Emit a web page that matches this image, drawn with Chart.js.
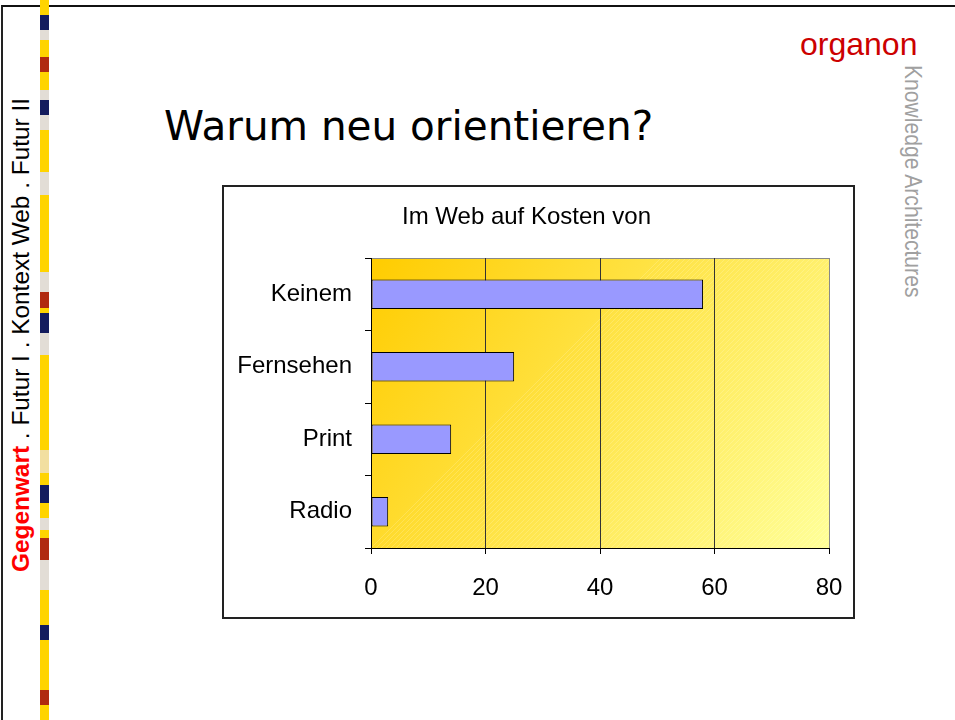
<!DOCTYPE html>
<html>
  <head>
    <meta charset="UTF-8" />
    <title>Warum neu orientieren?</title>
    <script src="https://cdn.jsdelivr.net/npm/chart.js"></script>
    <style>
      body {
        margin: 0;
        padding: 0;
        width: 955px;
        height: 720px;
        position: relative;
        overflow: hidden;
        background: #fff;
        font-family: "Liberation Sans", Arial, sans-serif;
      }
      .frame {
        position: absolute;
        left: 1px;
        top: 5px;
        width: 960px;
        height: 720px;
        border-top: 2px solid #111;
        border-left: 2px solid #222;
      }
      .stripe { position: absolute; left: 40px; width: 9px; }
      .side {
        position: absolute;
        left: 9px;
        top: 572px;
        transform-origin: 0 0;
        transform: rotate(-90deg);
        white-space: nowrap;
        font-size: 24.4px;
        line-height: 24px;
        color: #000;
      }
      .side b { color: #ff0000; }
      .brand {
        position: absolute;
        left: 800px;
        top: 28px;
        font-size: 32px;
        line-height: 32px;
        color: #cc0000;
      }
      .tagline {
        position: absolute;
        left: 925px;
        top: 65px;
        transform-origin: 0 0;
        transform: rotate(90deg) scaleX(0.88);
        white-space: nowrap;
        font-size: 24px;
        line-height: 24px;
        color: #a0a0a0;
      }
      .heading {
        position: absolute;
        left: 164px;
        top: 106px;
        font-family: "DejaVu Sans", Verdana, sans-serif;
        font-size: 40.5px;
        line-height: 40px;
        color: #000;
        white-space: nowrap;
      }
      .box {
        position: absolute;
        left: 222px;
        top: 185px;
        width: 629px;
        height: 430px;
        border: 2px solid #222;
        background: #fff;
      }
      canvas { display: block; }
    </style>
  </head>
  <body>
    <div class="frame"></div>
    <div id="stripes"></div>
    <div class="side"><b>Gegenwart</b> . Futur I . Kontext Web . Futur II</div>
    <div class="brand">organon</div>
    <div class="tagline">Knowledge Architectures</div>
    <div class="heading">Warum neu orientieren?</div>
    <div class="box"><canvas id="myChart" width="629" height="430"></canvas></div>
    <script>
      const chartTitle = 'Im Web auf Kosten von';
      const categories = ['Keinem', 'Fernsehen', 'Print', 'Radio'];
      const values = [58, 25, 14, 3];
      const xTicks = [0, 20, 40, 60, 80];

      // decorative colour strip on the left edge
      const Y = '#ffd400', N = '#141c5e', G = '#e2ddd6', R = '#b02a10', B = '#f2dfa0';
      const strip = [
        [0, 15, Y], [15, 30, N], [30, 40, G], [40, 57, Y], [57, 72, R], [72, 90, Y],
        [90, 100, G], [100, 115, N], [115, 130, G], [130, 172, Y], [172, 195, G],
        [195, 272, Y], [272, 292, G], [292, 308, R], [308, 313, Y], [313, 333, N],
        [333, 355, G], [355, 450, Y], [450, 473, B], [473, 485, Y], [485, 503, N],
        [503, 518, Y], [518, 530, G], [530, 538, Y], [538, 560, R], [560, 590, G],
        [590, 625, Y], [625, 640, N], [640, 690, Y], [690, 705, R], [705, 720, Y]
      ];
      const holder = document.getElementById('stripes');
      strip.forEach(([a, b, c]) => {
        const d = document.createElement('div');
        d.className = 'stripe';
        d.style.top = a + 'px';
        d.style.height = (b - a) + 'px';
        d.style.background = c;
        holder.appendChild(d);
      });

      const font = { family: '"Liberation Sans", Arial, sans-serif', size: 24, weight: 'normal' };

      const plotBg = {
        id: 'plotBg',
        beforeDraw(chart) {
          const { ctx, chartArea: a } = chart;
          const w = a.right - a.left, h = a.bottom - a.top;
          ctx.save();
          const g = ctx.createLinearGradient(a.left, a.top, a.right, a.bottom);
          g.addColorStop(0, '#ffcc00');
          g.addColorStop(1, '#ffff99');
          ctx.fillStyle = g;
          ctx.fillRect(a.left, a.top, w, h);
          // faint diagonal hatching
          ctx.beginPath();
          ctx.rect(a.left, a.top, w, h);
          ctx.clip();
          ctx.strokeStyle = 'rgba(255,255,255,0.18)';
          ctx.lineWidth = 1;
          for (let s = 0; s < w + h; s += 5) {
            ctx.beginPath();
            ctx.moveTo(a.left + s, a.bottom);
            ctx.lineTo(a.left + s + h, a.top);
            ctx.stroke();
          }
          ctx.restore();
          ctx.save();
          ctx.strokeStyle = '#888';
          ctx.lineWidth = 1;
          ctx.beginPath();
          ctx.moveTo(a.left, a.top + 0.5);
          ctx.lineTo(a.right, a.top + 0.5);
          ctx.stroke();
          ctx.restore();
        }
      };

      const ctx = document.getElementById('myChart').getContext('2d');
      new Chart(ctx, {
        type: 'bar',
        data: {
          labels: categories,
          datasets: [{
            data: values,
            backgroundColor: '#9999ff',
            borderColor: '#000',
            borderWidth: 1,
            borderSkipped: false,
            barPercentage: 0.41,
            categoryPercentage: 1
          }]
        },
        plugins: [plotBg],
        options: {
          indexAxis: 'y',
          responsive: false,
          animation: false,
          devicePixelRatio: 1,
          layout: { padding: { left: 0, right: 24, top: 0, bottom: 0 } },
          plugins: {
            legend: { display: false },
            tooltip: { enabled: false },
            title: {
              display: true,
              text: chartTitle,
              color: '#000',
              font: font,
              padding: { top: 15.6, bottom: 26.6 }
            }
          },
          scales: {
            x: {
              min: xTicks[0],
              max: xTicks[xTicks.length - 1],
              ticks: { stepSize: xTicks[1] - xTicks[0], color: '#000', font: font, padding: 20 },
              grid: {
                color: c => (c.tick && c.tick.value === xTicks[xTicks.length - 1]) ? '#888' : '#333',
                tickColor: '#000',
                tickLength: 6,
                lineWidth: 1
              },
              border: { color: '#000', width: 1 },
              afterFit: s => { s.height = 69; s.paddingLeft = 0; s.paddingRight = 0; }
            },
            y: {
              ticks: { color: '#000', font: font, padding: 13 },
              grid: { drawOnChartArea: false, tickColor: '#000', tickLength: 6 },
              border: { color: '#000', width: 1 },
              afterFit: s => { s.width = 147; s.paddingTop = 0; s.paddingBottom = 0; }
            }
          }
        }
      });
    </script>
  </body>
</html>
